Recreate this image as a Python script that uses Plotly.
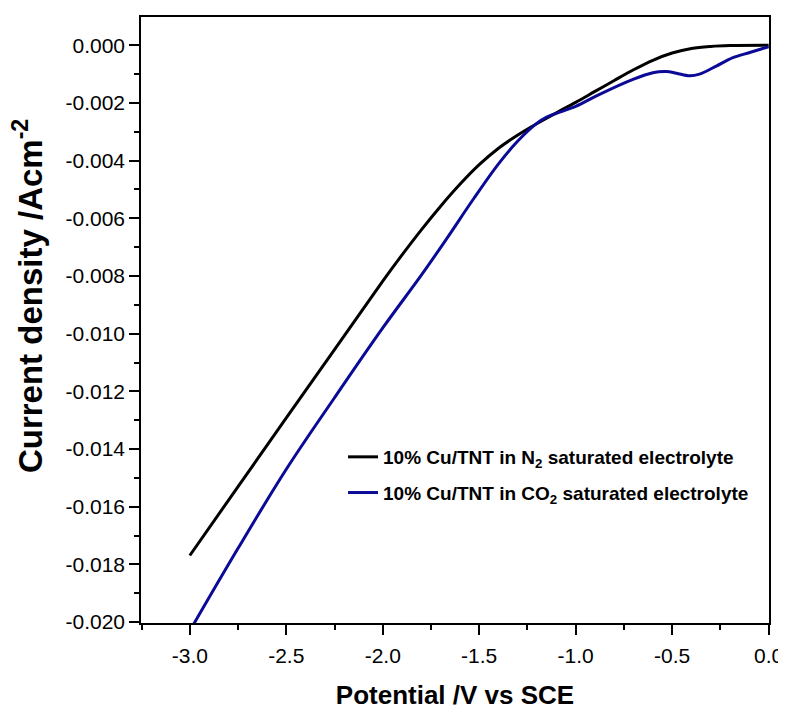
import plotly.graph_objects as go

# N2 saturated electrolyte (black)
v_n2 = [-3.0, -2.75, -2.5, -2.25, -2.0, -1.9, -1.8, -1.7, -1.6, -1.5, -1.4,
        -1.3, -1.2, -1.1, -1.0, -0.9, -0.8, -0.7, -0.6, -0.5, -0.4, -0.3,
        -0.2, 0.0]
j_n2 = [-0.01769, -0.01530, -0.01292, -0.01055, -0.00818, -0.00727, -0.00640,
        -0.00558, -0.00482, -0.00414, -0.00357, -0.00311, -0.00271, -0.00234,
        -0.00198, -0.00160, -0.00122, -0.00085, -0.00052, -0.00027, -0.00011,
        -0.00004, -0.00001, 0.0]

# CO2 saturated electrolyte (blue)
v_co2 = [-3.0, -2.75, -2.5, -2.25, -2.0, -1.8, -1.67, -1.53, -1.4, -1.3, -1.2,
         -1.15, -1.1, -1.0, -0.876, -0.703, -0.6, -0.53, -0.478, -0.409, -0.358,
         -0.271, -0.185, -0.098, 0.0]
j_co2 = [-0.0203, -0.01744, -0.01470, -0.01222, -0.00980, -0.00797, -0.00672,
         -0.00533, -0.00411, -0.00332, -0.00270, -0.00249, -0.00236, -0.00212,
         -0.00170, -0.00118, -0.00095, -0.00091, -0.00097, -0.00106, -0.00100,
         -0.00072, -0.00043, -0.00025, -0.00005]

x_tickvals = [-3.0, -2.5, -2.0, -1.5, -1.0, -0.5, 0.0]
x_ticktext = ["-3.0", "-2.5", "-2.0", "-1.5", "-1.0", "-0.5", "0.0"]
y_tickvals = [0.0, -0.002, -0.004, -0.006, -0.008, -0.010, -0.012, -0.014,
              -0.016, -0.018, -0.020]
y_ticktext = ["0.000", "-0.002", "-0.004", "-0.006", "-0.008", "-0.010",
              "-0.012", "-0.014", "-0.016", "-0.018", "-0.020"]

names = ["<b>10% Cu/TNT in N<sub>2</sub> saturated electrolyte</b>",
         "<b>10% Cu/TNT in CO<sub>2</sub> saturated electrolyte</b>"]
x_title = "<b>Potential /V vs SCE</b>"
y_title = "<b>Current density /Acm<sup>-2</sup></b>"

FONT = "Liberation Sans, Arial, sans-serif"

fig = go.Figure()
fig.add_trace(go.Scatter(x=v_n2, y=j_n2, mode="lines", name=names[0], legendgroup="a",
                         line=dict(color="#000000", width=3, shape="spline", smoothing=1.0)))
fig.add_trace(go.Scatter(x=v_co2, y=j_co2, mode="lines", name=names[1], legendgroup="b",
                         line=dict(color="#0a0a96", width=3, shape="spline", smoothing=1.0)))

axis_common = dict(
    showline=True, linecolor="black", linewidth=1.5, mirror=True,
    ticks="outside", ticklen=10, tickwidth=1.5, tickcolor="black",
    showgrid=False, zeroline=False, automargin=False,
    tickfont=dict(family=FONT, size=21, color="black"),
)

fig.update_xaxes(
    range=[-3.253, 0.002], tickvals=x_tickvals, ticktext=x_ticktext,
    ticklabelstandoff=3,
    minor=dict(ticks="outside", ticklen=5, tickwidth=1.5, tickcolor="black",
               dtick=0.25, tick0=0, showgrid=False),
    title=dict(text=x_title, standoff=20,
               font=dict(family=FONT, size=26, color="black")),
    **axis_common)
fig.update_yaxes(
    range=[-0.02003, 0.00098], tickvals=y_tickvals, ticktext=y_ticktext,
    minor=dict(ticks="outside", ticklen=5, tickwidth=1.5, tickcolor="black",
               dtick=0.001, tick0=0, showgrid=False),
    **axis_common)

fig.add_annotation(text=y_title, textangle=-90, xref="paper", yref="paper",
                   x=-0.1799, y=0.5395, xanchor="center", yanchor="middle",
                   showarrow=False, font=dict(family=FONT, size=33, color="black"))

fig.update_layout(
    width=778, height=705,
    margin=dict(l=133, r=17, t=9, b=90),
    paper_bgcolor="white", plot_bgcolor="white",
    legend=dict(x=0.3217, y=0.3053, xanchor="left", yanchor="top",
                bgcolor="rgba(0,0,0,0)", borderwidth=0, tracegroupgap=8,
                traceorder="grouped",
                font=dict(family=FONT, size=19, color="black")),
)

fig.write_html("out.html")
